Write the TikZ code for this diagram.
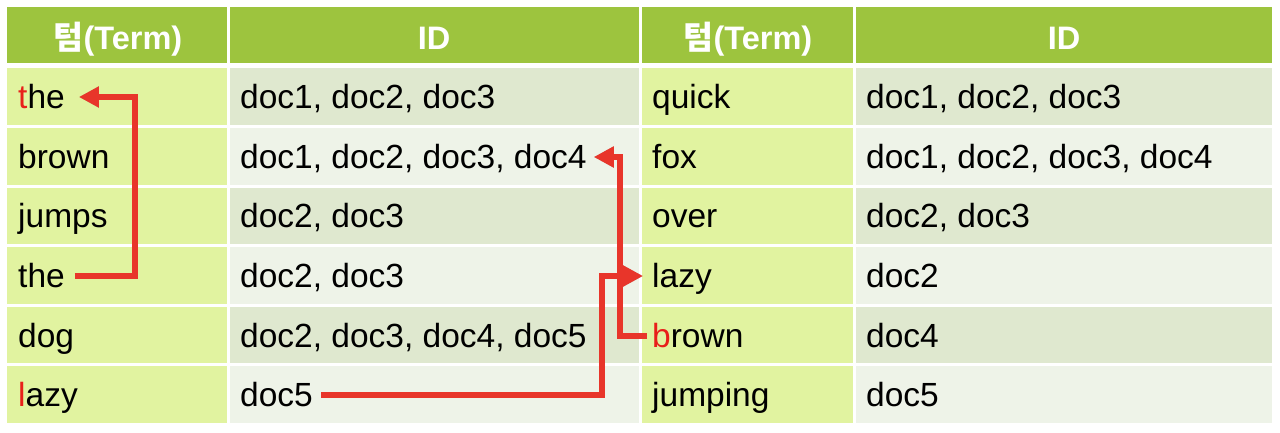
\documentclass[tikz,border=0pt]{standalone}
\usepackage{fontspec}
\setmainfont{Liberation Sans}
\newfontfamily\cjk{Noto Sans CJK KR}
\usetikzlibrary{arrows.meta}
\definecolor{hdr}{HTML}{9DC43E}
\definecolor{termbg}{HTML}{E1F3A0}
\definecolor{iddark}{HTML}{DFE8CF}
\definecolor{idlight}{HTML}{EEF3E8}
\definecolor{arrowred}{HTML}{E8352A}
\definecolor{letterred}{HTML}{E8201A}
\tikzset{
  cell/.style={inner sep=0pt, text height=23pt, text depth=0pt, font=\fontsize{33.5}{36}\selectfont, anchor=west},
  head/.style={inner sep=0pt, text=white, font=\fontsize{32.5}{36}\selectfont\bfseries, anchor=base},
  link/.style={draw=arrowred, line width=5.5pt, -{Triangle[length=20pt,width=20pt]}},
  linkshadow/.style={draw=black, opacity=0.18, line width=5.5pt, -{Triangle[length=20pt,width=20pt]}},
}
\begin{document}
\begin{tikzpicture}[x=1pt,y=-1pt]
\useasboundingbox (0,0) rectangle (1280,432);
\fill[white] (0,0) rectangle (1280,432);
% header
\fill[hdr] (7,7) rectangle (227,63);
\fill[hdr] (230,7) rectangle (639,63);
\fill[hdr] (642,7) rectangle (853,63);
\fill[hdr] (856,7) rectangle (1272,63);
% term columns
\foreach \ya/\yb in {68/125,128/185,188/244,247/304,307/363,366/423}{
  \fill[termbg] (7,\ya) rectangle (227,\yb);
  \fill[termbg] (642,\ya) rectangle (853,\yb);
}
% id columns
\foreach \ya/\yb in {68/125,188/244,307/363}{
  \fill[iddark] (230,\ya) rectangle (639,\yb);
  \fill[iddark] (856,\ya) rectangle (1272,\yb);
}
\foreach \ya/\yb in {128/185,247/304,366/423}{
  \fill[idlight] (230,\ya) rectangle (639,\yb);
  \fill[idlight] (856,\ya) rectangle (1272,\yb);
}
% header texts
\node[head] (h1) at (118,49) {{\cjk\bfseries 텀}(Term)};
\node[head] (h2) at (434,49) {ID};
\node[head] (h3) at (748,49) {{\cjk\bfseries 텀}(Term)};
\node[head] (h4) at (1064,49) {ID};
% column 1
\node[cell] (a1) at (18,97) {\textcolor{letterred}{t}he};
\node[cell] (a2) at (18,157) {brown};
\node[cell] (a3) at (18,216) {jumps};
\node[cell] (a4) at (18,276) {the};
\node[cell] (a5) at (18,336) {dog};
\node[cell] (a6) at (18,395) {\textcolor{letterred}{l}azy};
% column 2
\node[cell] (b1) at (240,97) {doc1, doc2, doc3};
\node[cell] (b2) at (240,157) {doc1, doc2, doc3, doc4};
\node[cell] (b3) at (240,216) {doc2, doc3};
\node[cell] (b4) at (240,276) {doc2, doc3};
\node[cell] (b5) at (240,336) {doc2, doc3, doc4, doc5};
\node[cell] (b6) at (240,395) {doc5};
% column 3
\node[cell] (c1) at (652,97) {quick};
\node[cell] (c2) at (652,157) {fox};
\node[cell] (c3) at (652,216) {over};
\node[cell] (c4) at (652,276) {lazy};
\node[cell] (c5) at (652,336) {\textcolor{letterred}{b}rown};
\node[cell] (c6) at (652,395) {jumping};
% column 4
\node[cell] (d1) at (866,97) {doc1, doc2, doc3};
\node[cell] (d2) at (866,157) {doc1, doc2, doc3, doc4};
\node[cell] (d3) at (866,216) {doc2, doc3};
\node[cell] (d4) at (866,276) {doc2};
\node[cell] (d5) at (866,336) {doc4};
\node[cell] (d6) at (866,395) {doc5};
% arrow guides
\coordinate (v1) at (135,0);
\coordinate (v2) at (620,0);
\coordinate (v3) at (602,0);
% arrow shadows
\begin{scope}[shift={(1.2,1.8)}]
\draw[linkshadow] ([xshift=10pt]a4.east) -- (a4.east -| v1) -- (a1.east -| v1) -- ([xshift=14pt]a1.east);
\draw[linkshadow] ([xshift=-5pt]c5.west) -- (c5.west -| v2) -- (b2.east -| v2) -- ([xshift=7pt]b2.east);
\draw[linkshadow] ([xshift=8pt]b6.east) -- (b6.east -| v3) -- (c4.west -| v3) -- ([xshift=-9pt]c4.west);
\end{scope}
% arrows
\draw[link] ([xshift=10pt]a4.east) -- (a4.east -| v1) -- (a1.east -| v1) -- ([xshift=14pt]a1.east);
\draw[link] ([xshift=-5pt]c5.west) -- (c5.west -| v2) -- (b2.east -| v2) -- ([xshift=7pt]b2.east);
\draw[link] ([xshift=8pt]b6.east) -- (b6.east -| v3) -- (c4.west -| v3) -- ([xshift=-9pt]c4.west);
\end{tikzpicture}
\end{document}
